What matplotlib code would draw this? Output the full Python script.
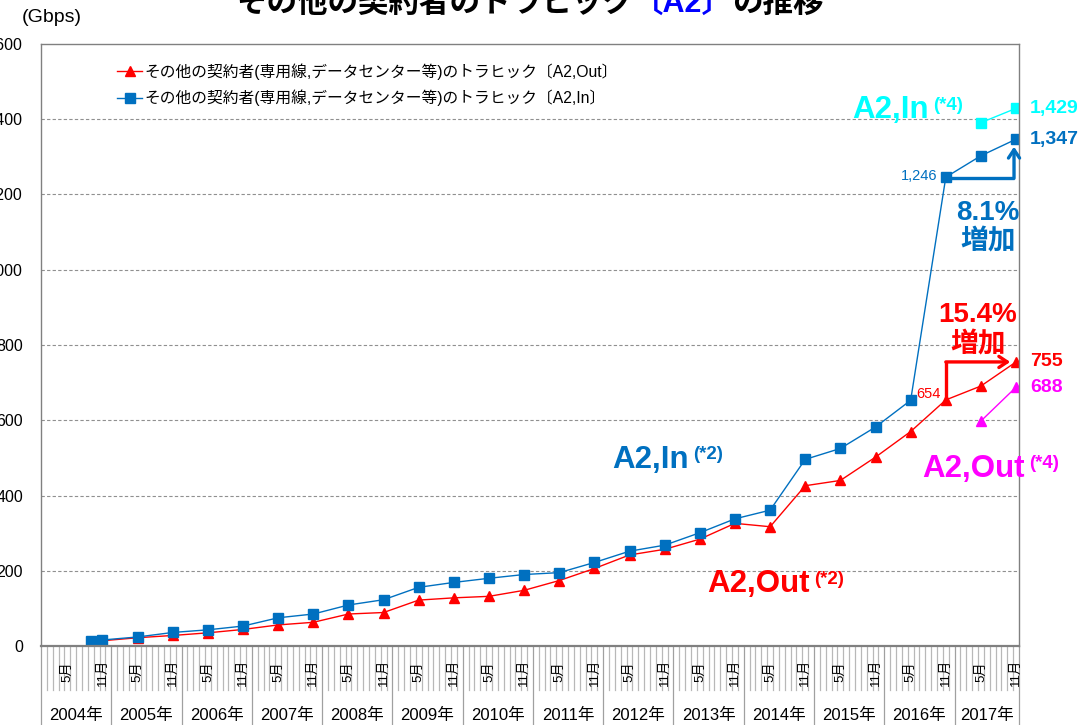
import numpy as np
import matplotlib
matplotlib.use("Agg")
import matplotlib.pyplot as plt
from matplotlib.transforms import blended_transform_factory

plt.rcParams['font.family'] = ['Liberation Sans', 'Noto Sans CJK JP', 'DejaVu Sans']

# data (Gbps)
dates = ['2004-09', '2004-11', '2005-05', '2005-11', '2006-05', '2006-11',
         '2007-05', '2007-11', '2008-05', '2008-11', '2009-05', '2009-11',
         '2010-05', '2010-11', '2011-05', '2011-11', '2012-05', '2012-11',
         '2013-05', '2013-11', '2014-05', '2014-11', '2015-05', '2015-11',
         '2016-05', '2016-11', '2017-05', '2017-11']
a2_in = [13, 16, 24, 36, 43, 53, 75, 85, 109, 123, 156, 169, 180, 190, 195, 222,
         252, 268, 301, 338, 361, 496, 525, 582, 653, 1246, 1303, 1347]
a2_out = [11, 14, 22, 28, 35, 44, 56, 63, 85, 89, 122, 128, 132, 148, 174, 206,
          242, 257, 284, 326, 317, 426, 440, 502, 570, 654, 691, 755]
new_dates = ['2017-05', '2017-11']
a2_in_new = [1391, 1429]
a2_out_new = [598, 688]

years = list(range(2004, 2018))
last_month = 11  # axis ends at 2017-11

label_out = 'その他の契約者(専用線,データセンター等)のトラヒック〔A2,Out〕'
label_in = 'その他の契約者(専用線,データセンター等)のトラヒック〔A2,In〕'

BLUE = '#0070C0'
RED = '#FF0000'
MAG = '#FF00FF'
CYAN = '#00FFFF'


def midx(s):
    y, m = s.split('-')
    return (int(y) - 2004) * 12 + int(m) - 1


x = np.array([midx(d) for d in dates])
xn = np.array([midx(d) for d in new_dates])
nmonths = (years[-1] - years[0]) * 12 + last_month

fig = plt.figure(figsize=(10.85, 7.25), dpi=100)
ax = fig.add_axes([41 / 1085, 79 / 725, 978 / 1085, 602 / 725])

ax.plot(x, a2_out, color=RED, lw=1.0, marker='^', ms=7.5, label=label_out)
ax.plot(x, a2_in, color=BLUE, lw=1.0, marker='s', ms=7, label=label_in)
ax.plot(xn, a2_out_new, color=MAG, lw=1.0, marker='^', ms=7.5)
ax.plot(xn, a2_in_new, color=CYAN, lw=1.0, marker='s', ms=7)

ax.set_xlim(-0.5, nmonths - 0.5)
ax.set_ylim(0, 1600)
ax.set_yticks(np.arange(0, 1601, 200))
ax.set_yticklabels(['{:,}'.format(v) for v in range(0, 1601, 200)], fontsize=11.5)
ax.tick_params(axis='y', length=0, pad=13)
ax.set_xticks([])
for v in range(200, 1600, 200):
    ax.axhline(v, color='#909090', lw=0.8, ls=(0, (3, 2)), zorder=0)
for sp in ax.spines.values():
    sp.set_color('#808080')
    sp.set_linewidth(1.0)
ax.spines['bottom'].set_linewidth(1.6)

# category axis (months / years)
tr = blended_transform_factory(ax.transData, ax.transAxes)
bot = -79 / 602
for b in range(nmonths + 1):
    xb = b - 0.5
    if b % 12 == 0 or b == nmonths:
        ax.plot([xb, xb], [0, bot], transform=tr, color='#a0a0a0', lw=0.9, clip_on=False)
    else:
        ax.plot([xb, xb], [0, -0.073], transform=tr, color='#b8b8b8', lw=0.9, clip_on=False)
for i, yr in enumerate(years):
    for mm, lab in [(5, '5月'), (11, '11月')]:
        xi = i * 12 + mm - 1
        if xi < nmonths:
            ax.text(xi, -0.043, lab, transform=tr, rotation=90, ha='center', va='center',
                    fontsize=9.5)
    end = min((i + 1) * 12, nmonths)
    ax.text((i * 12 + end) / 2 - 0.5, -0.116, f'{yr}年', transform=tr, ha='center',
            va='center', fontsize=12)

leg = ax.legend(loc='upper left', bbox_to_anchor=(0.078, 0.968), frameon=False,
                fontsize=11.3, handlelength=1.6, handletextpad=0.15, labelspacing=0.62,
                borderaxespad=0, borderpad=0)

fig.text(22 / 1085, 1 - 18 / 725, '(Gbps)', fontsize=14, va='center', ha='left')

# title (cut at the top)
t1 = fig.text(236 / 1085, 1 - 12 / 725, 'その他の契約者のトラヒック', fontsize=22,
              fontweight='bold', va='baseline', ha='left')
t2 = ax.annotate('〔A2〕', xy=(1, 0), xycoords=t1, va='bottom', ha='left',
                 fontsize=22, fontweight='bold', color='#0000FF', annotation_clip=False)
ax.annotate('の推移', xy=(1, 0), xycoords=t2, va='bottom', ha='left',
            fontsize=22, fontweight='bold', annotation_clip=False)


def series_label(xp, yp, txt, sup, color):
    t = ax.text(xp, yp, txt, fontsize=22.5, fontweight='bold', color=color,
                ha='left', va='baseline')
    ax.annotate(sup, xy=(1, 1), xycoords=t, xytext=(3.5, -1), textcoords='offset points',
                va='top', ha='left', fontsize=13.5, fontweight='bold', color=color)


series_label(97.0, 473, 'A2,In', '(*2)', BLUE)
series_label(113.2, 143, 'A2,Out', '(*2)', RED)
series_label(149.9, 449, 'A2,Out', '(*4)', MAG)
series_label(138.0, 1403, 'A2,In', '(*4)', CYAN)

# end values
for xv, yv, c in [(xn[-1], a2_in_new[-1], CYAN), (x[-1], a2_in[-1], BLUE),
                  (x[-1], a2_out[-1], RED), (xn[-1], a2_out_new[-1], MAG)]:
    ax.annotate('{:,}'.format(yv), xy=(xv, yv), xytext=(10, 0), textcoords='offset points',
                fontsize=14, fontweight='bold', color=c, va='center', ha='left',
                annotation_clip=False)
ax.annotate('{:,}'.format(a2_in[-3]), xy=(x[-3], a2_in[-3]), xytext=(-6, 1),
            textcoords='offset points', fontsize=10.5, color=BLUE, va='center', ha='right')
ax.annotate('{:,}'.format(a2_out[-3]), xy=(x[-3], a2_out[-3]), xytext=(-4, 4),
            textcoords='offset points', fontsize=10.5, color=RED, va='center', ha='right')

# growth arrows
xb = x[-1] - 0.35
ax.plot([x[-3], xb], [a2_in[-3] - 3, a2_in[-3] - 3], color=BLUE, lw=2.4,
        solid_capstyle='butt')
ax.annotate('', xy=(xb, a2_in[-1] - 20), xytext=(xb, a2_in[-3] - 3),
            arrowprops=dict(arrowstyle='->,head_length=0.6,head_width=0.4', lw=2.4,
                            color=BLUE, shrinkA=0, shrinkB=0))
ax.plot([x[-3], x[-3]], [a2_out[-3], a2_out[-1]], color=RED, lw=2.4,
        solid_capstyle='butt')
ax.annotate('', xy=(x[-1] - 1.0, a2_out[-1]), xytext=(x[-3], a2_out[-1]),
            arrowprops=dict(arrowstyle='->,head_length=0.6,head_width=0.4', lw=2.4,
                            color=RED, shrinkA=0, shrinkB=0))

gin = (a2_in[-1] / a2_in[-3] - 1) * 100
gout = (a2_out[-1] / a2_out[-3] - 1) * 100
ax.text(161.2, 1112, f'{gin:.1f}%\n増加', fontsize=20, fontweight='bold', color=BLUE,
        ha='center', va='center', linespacing=1.2)
ax.text(159.5, 840, f'{gout:.1f}%\n増加', fontsize=20, fontweight='bold', color=RED,
        ha='center', va='center', linespacing=1.2)

fig.savefig('out.png', dpi=100)
